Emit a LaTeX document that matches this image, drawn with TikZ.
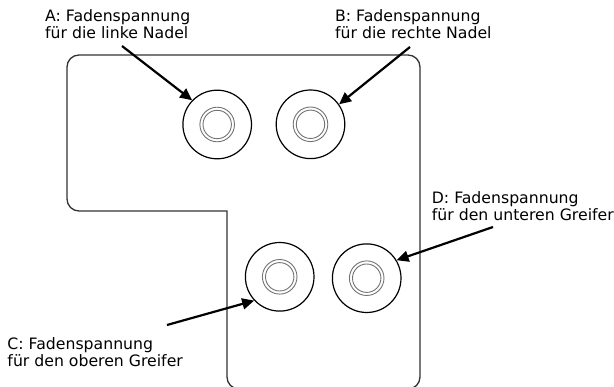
\documentclass[tikz,border=0pt]{standalone}
\usepackage{fontspec}
\newfontfamily\labfont{DejaVu Sans}
\usetikzlibrary{arrows.meta}
\tikzset{
  outline/.style={draw=black!80, line width=1.3pt, line cap=rect},
  disc/.style={circle, draw=black, line width=1.2pt, minimum size=68.6pt, inner sep=0pt},
  ring/.style={draw=black!55, line width=0.9pt},
  pointer/.style={draw=black, line width=2.2pt, -{Triangle[length=12pt,width=11pt]}},
  lab/.style={anchor=north west, inner sep=0pt, align=left, font=\labfont\fontsize{15.7}{17}\selectfont}
}
\begin{document}
\begin{tikzpicture}[x=1pt,y=-1pt]
\useasboundingbox (0,0) rectangle (614,387);
\clip (0,0) rectangle (614,387);
\fill[white] (0,0) rectangle (614,387);
% housing outline
\draw[outline, rounded corners=12pt] (227,211) -- (67,211) -- (67,55) -- (420,55) -- (420,389) -- (227,389) -- (227,211);
% tension discs
\node[disc] (A) at (217.2,124.5) {};
\node[disc] (B) at (310.5,124.3) {};
\node[disc] (C) at (279.7,276.8) {};
\node[disc] (D) at (366.7,278.2) {};
\foreach \n in {A,B,C,D}{
  \draw[ring] (\n.center) circle[radius=17.3pt];
  \draw[ring] (\n.center) circle[radius=14.2pt];
}
% labels
\node[lab] (ta) at (45,9.8) {A: Fadenspannung\\für die linke Nadel};
\node[lab] (tb) at (335,9.8) {B: Fadenspannung\\für die rechte Nadel};
\node[lab] (tc) at (7.3,337) {C: Fadenspannung\\für den oberen Greifer};
\node[lab] (td) at (431.7,191.4) {D: Fadenspannung\\für den unteren Greifer};
% arrow start points
\coordinate (sa) at (122,46);
\coordinate (sb) at (410,47);
\coordinate (sc) at (167,325);
\coordinate (sd) at (493,227);
\draw[pointer] (sa) -- (A.136);
\draw[pointer] (sb) -- (B.35);
\draw[pointer] (sc) -- (C.223);
\draw[pointer] (sd) -- (D.31);
\end{tikzpicture}
\end{document}
